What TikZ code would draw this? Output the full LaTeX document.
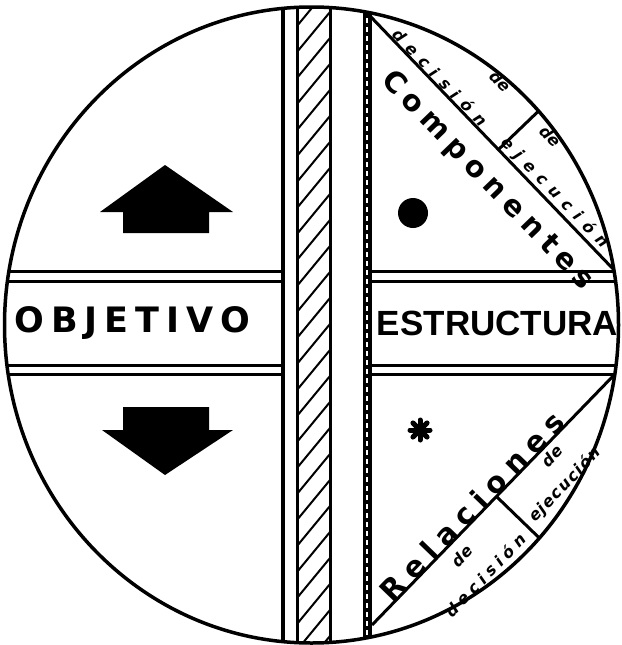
\documentclass[tikz,border=0pt]{standalone}
\usepackage{fontspec}
\usetikzlibrary{calc}
\newfontfamily\geo{DejaVu Sans}
\newfontfamily\arialb{Liberation Sans}
\newfontfamily\handf{DejaVu Sans}
\newcommand\spreadtext[2]{\makebox[#1]{\spreadletters#2\relax}}
\def\spreadletters#1{\ifx\relax#1\else#1\expandafter\spreadnext\fi}
\def\spreadnext#1{\ifx\relax#1\else\hfill#1\expandafter\spreadnext\fi}
\begin{document}
\begin{tikzpicture}[x=1pt,y=-1pt,line join=round,
  ln/.style={line width=3pt},
  hand/.style={font=\handf\bfseries\itshape\fontsize{16}{16}\selectfont, inner sep=0pt},
  big/.style={font=\geo\bfseries\fontsize{29}{29}\selectfont, inner sep=0pt},
  title/.style={inner sep=0pt}]
\useasboundingbox (0,0) rectangle (621,645);
\fill[white] (0,0) rectangle (621,645);
\coordinate (O) at (311.5,325);
\begin{scope}
  \clip (O) ellipse [x radius=307, y radius=318];
  % vertical strip
  \draw[line width=4pt] (283,0) -- (283,645);
  \draw[ln] (297,0) -- (297,645);
  \draw[ln] (330,0) -- (330,645);
  \begin{scope}
    \clip (297,0) rectangle (330,645);
    \foreach \y in {-40,-14,...,700} \draw[line width=2pt] (297,\y+40) -- (330,\y);
  \end{scope}
  \draw[line width=9pt] (367,0) -- (367,645);
  \draw[white,line width=1.8pt,dash pattern=on 5pt off 4pt] (367,0) -- (367,645);
  % horizontal band
  \foreach \y in {271,281,365,374} {
    \draw[ln] (0,\y) -- (283,\y);
    \draw[ln] (371,\y) -- (621,\y);
  }
  % top triangle
  \coordinate (A) at (371,17);
  \coordinate (B) at (616,272);
  \draw[ln] (A) -- (B);
  \coordinate (P) at ($(A)!0.52!(B)$);
  \draw[ln] (P) -- ($(P)!80pt!90:(B)$);
  % bottom triangle
  \coordinate (C) at (372,625);
  \coordinate (D) at (616,373);
  \draw[ln] (C) -- (D);
  \coordinate (Q) at ($(C)!0.51!(D)$);
  \draw[ln] (Q) -- ($(Q)!80pt!-90:(D)$);
\end{scope}
\draw[line width=3.5pt] (O) ellipse [x radius=307, y radius=318];
% arrows
\fill (165,165) -- (100,212) -- (123,212) -- (123,233) -- (209,233) -- (209,212) -- (233,212) -- cycle;
\fill (123,407) -- (209,407) -- (209,430) -- (233,430) -- (165,475) -- (102,430) -- (123,430) -- cycle;
% dot and asterisk
\fill (413,213) circle [radius=15];
\foreach \a in {0,45,90,135}
  \draw[line width=5pt,line cap=round] (420,430) -- ++(\a:10) (420,430) -- ++(\a+180:10);
% labels
\node[title,font=\geo\bfseries\fontsize{35}{35}\selectfont] (obj) at (132.5,323) {\spreadtext{236pt}{OBJETIVO}};
\node[title,font=\arialb\bfseries\fontsize{35}{35}\selectfont] (est) at (497.5,323) {\spreadtext{240pt}{ESTRUCTURA}};
\node[big,rotate=-46] (comp) at (487,181) {\spreadtext{292pt}{Componentes}};
\node[big,rotate=46] (rel) at (472,506) {\spreadtext{250pt}{Relaciones}};
\node[hand,rotate=-46] (dec1) at (440,77) {\spreadtext{128pt}{decisión}};
\node[hand,rotate=-46] (de1) at (501,81) {de};
\node[hand,rotate=-46] (de2) at (551,136) {de};
\node[hand,rotate=-46] (eje1) at (555,193) {\spreadtext{146pt}{ejecución}};
\node[hand,rotate=46] (de3) at (462,556) {de};
\node[hand,rotate=46] (dec2) at (485,575) {\spreadtext{108pt}{decisión}};
\node[hand,rotate=46] (de4) at (552,456) {de};
\node[hand,rotate=46] (eje2) at (565,485) {\spreadtext{96pt}{ejecución}};
\end{tikzpicture}
\end{document}
